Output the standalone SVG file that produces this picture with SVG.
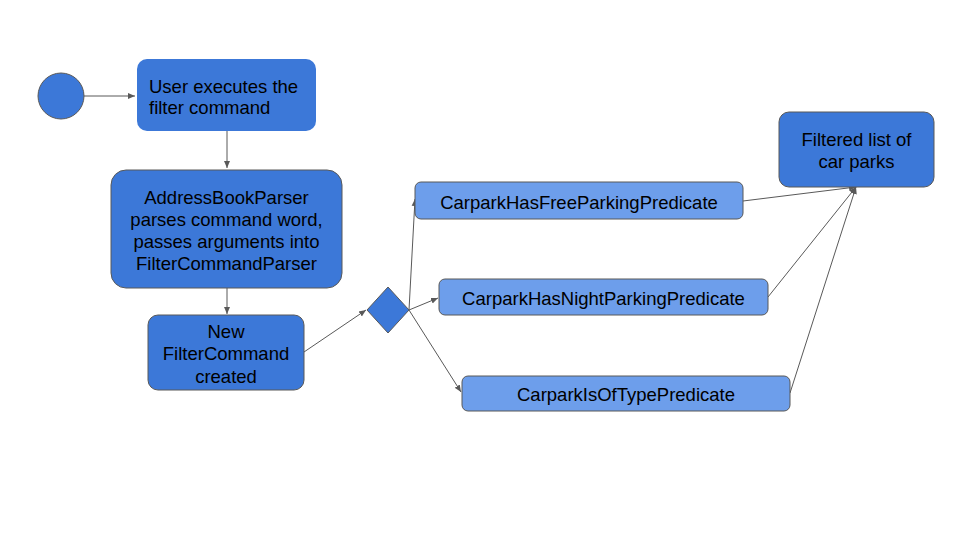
<svg xmlns="http://www.w3.org/2000/svg" width="960" height="540" viewBox="0 0 960 540">
<defs>
<marker id="ah" markerWidth="8" markerHeight="8" refX="7" refY="4" orient="auto" markerUnits="userSpaceOnUse">
<path d="M0,1 L7,4 L0,7 Z" fill="#595959"/>
</marker>
<style>
.dk{fill:#3c78d8;stroke:#595959;stroke-width:1}
.lt{fill:#6d9eeb;stroke:#595959;stroke-width:1}
.t{font-family:"Liberation Sans",Arial,sans-serif;font-size:18.5px;fill:#000}
.c{text-anchor:middle}
.cn{fill:none;stroke:#595959;stroke-width:1;marker-end:url(#ah)}
</style>
</defs>
<rect width="960" height="540" fill="#fff"/>
<g id="connectors">
<line class="cn" x1="84" y1="96" x2="135" y2="96"/>
<line class="cn" x1="227" y1="131" x2="227" y2="168"/>
<line class="cn" x1="227" y1="288" x2="227" y2="314"/>
<line class="cn" x1="304" y1="352" x2="366" y2="310"/>
<line class="cn" x1="409" y1="310" x2="415" y2="199"/>
<line class="cn" x1="409" y1="310" x2="438" y2="298"/>
<line class="cn" x1="409" y1="310" x2="461" y2="392"/>
<line class="cn" x1="743" y1="201" x2="856" y2="187"/>
<line class="cn" x1="768" y1="297" x2="856" y2="187"/>
<line class="cn" x1="790" y1="393" x2="856" y2="187"/>
</g>
<g id="start"><circle class="dk" cx="61" cy="96" r="23"/></g>
<g id="n1">
<rect x="137" y="59" width="179" height="72" rx="10" fill="#3c78d8"/>
<text class="t" x="149" y="93">User executes the</text>
<text class="t" x="149" y="114">filter command</text>
</g>
<g id="n2">
<rect class="dk" x="111" y="170" width="231" height="118" rx="15"/>
<text class="t c" x="226.5" y="204">AddressBookParser</text>
<text class="t c" x="226.5" y="226">parses command word,</text>
<text class="t c" x="226.5" y="248">passes arguments into</text>
<text class="t c" x="226.5" y="270">FilterCommandParser</text>
</g>
<g id="n3">
<rect class="dk" x="148" y="315" width="156" height="75" rx="10"/>
<text class="t c" x="226" y="338">New</text>
<text class="t c" x="226" y="360">FilterCommand</text>
<text class="t c" x="226" y="383">created</text>
</g>
<g id="decision"><polygon class="dk" points="388,287 409,310 388,333 367,310"/></g>
<g id="p1">
<rect class="lt" x="415" y="182" width="328" height="37" rx="6"/>
<text class="t c" x="579" y="209">CarparkHasFreeParkingPredicate</text>
</g>
<g id="p2">
<rect class="lt" x="439" y="279" width="329" height="36" rx="6"/>
<text class="t c" x="603.5" y="305">CarparkHasNightParkingPredicate</text>
</g>
<g id="p3">
<rect class="lt" x="462" y="376" width="328" height="35" rx="6"/>
<text class="t c" x="626" y="401">CarparkIsOfTypePredicate</text>
</g>
<g id="result">
<rect class="dk" x="779" y="112" width="155" height="75" rx="10"/>
<text class="t c" x="856.5" y="146">Filtered list of</text>
<text class="t c" x="856.5" y="168">car parks</text>
</g>
</svg>
